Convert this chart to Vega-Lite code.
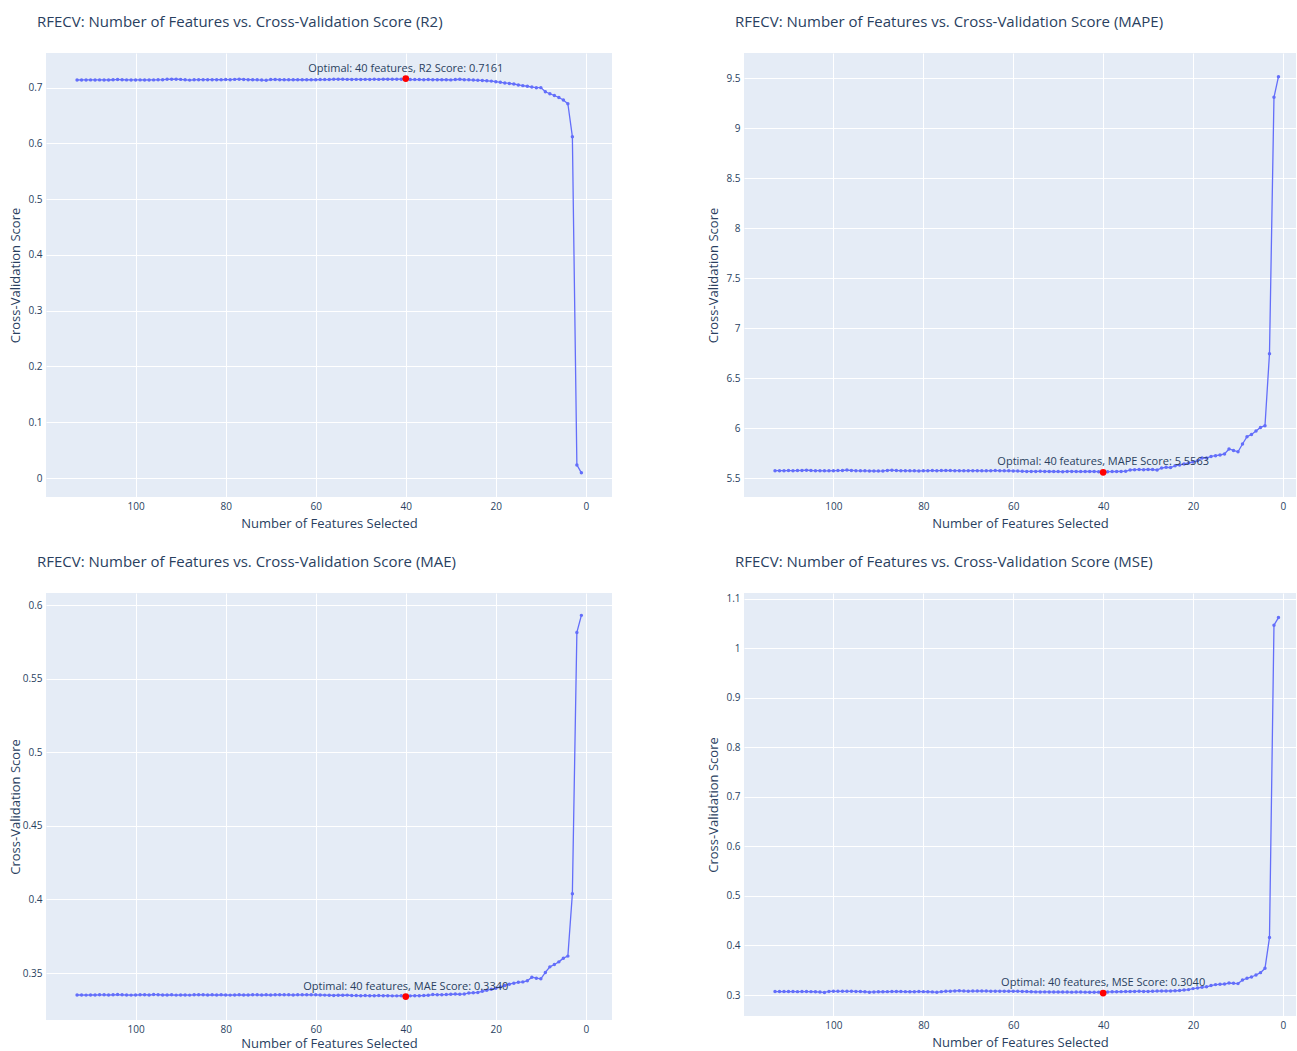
{
  "$schema": "https://vega.github.io/schema/vega-lite/v6.json",
  "background": "white",
  "padding": {"left": 9, "top": 15, "right": 0, "bottom": 0},
  "config": {
    "font": "Open Sans",
    "view": {"fill": "#E5ECF6", "stroke": null},
    "axis": {
      "gridColor": "white", "gridWidth": 1, "domain": false, "ticks": false,
      "labelColor": "#2a3f5f", "labelFontSize": 10, "labelFont": "Open Sans",
      "titleColor": "#2a3f5f", "titleFontSize": 13, "titleFontWeight": "normal", "titleFont": "Open Sans",
      "labelPadding": 4
    },
    "axisX": {"titlePadding": 6},
    "axisY": {"titleX": -31, "titleBaseline": "middle"},
    "title": {"anchor": "start", "frame": "group", "fontSize": 15, "fontWeight": "normal", "color": "#2a3f5f", "font": "Open Sans", "offset": 23, "dx": -9}
  },
  "datasets": {
    "scores": [
      {"n":113,"r2":0.7136,"mape":5.573,"mae":0.3351,"mse":0.3069},
      {"n":112,"r2":0.7137,"mape":5.573,"mae":0.3351,"mse":0.3070},
      {"n":111,"r2":0.7137,"mape":5.573,"mae":0.3350,"mse":0.3069},
      {"n":110,"r2":0.7138,"mape":5.574,"mae":0.3351,"mse":0.3069},
      {"n":109,"r2":0.7137,"mape":5.573,"mae":0.3351,"mse":0.3070},
      {"n":108,"r2":0.7138,"mape":5.574,"mae":0.3352,"mse":0.3068},
      {"n":107,"r2":0.7137,"mape":5.576,"mae":0.3352,"mse":0.3069},
      {"n":106,"r2":0.7136,"mape":5.578,"mae":0.3351,"mse":0.3070},
      {"n":105,"r2":0.7140,"mape":5.575,"mae":0.3352,"mse":0.3068},
      {"n":104,"r2":0.7146,"mape":5.573,"mae":0.3354,"mse":0.3066},
      {"n":103,"r2":0.7140,"mape":5.573,"mae":0.3352,"mse":0.3060},
      {"n":102,"r2":0.7138,"mape":5.572,"mae":0.3351,"mse":0.3052},
      {"n":101,"r2":0.7137,"mape":5.572,"mae":0.3350,"mse":0.3072},
      {"n":100,"r2":0.7137,"mape":5.573,"mae":0.3351,"mse":0.3074},
      {"n":99,"r2":0.7138,"mape":5.574,"mae":0.3352,"mse":0.3075},
      {"n":98,"r2":0.7136,"mape":5.576,"mae":0.3353,"mse":0.3074},
      {"n":97,"r2":0.7137,"mape":5.579,"mae":0.3351,"mse":0.3075},
      {"n":96,"r2":0.7138,"mape":5.576,"mae":0.3354,"mse":0.3074},
      {"n":95,"r2":0.7139,"mape":5.573,"mae":0.3353,"mse":0.3073},
      {"n":94,"r2":0.7141,"mape":5.572,"mae":0.3351,"mse":0.3070},
      {"n":93,"r2":0.7148,"mape":5.572,"mae":0.3351,"mse":0.3066},
      {"n":92,"r2":0.7150,"mape":5.571,"mae":0.3352,"mse":0.3057},
      {"n":91,"r2":0.7149,"mape":5.570,"mae":0.3350,"mse":0.3062},
      {"n":90,"r2":0.7147,"mape":5.569,"mae":0.3351,"mse":0.3064},
      {"n":89,"r2":0.7140,"mape":5.571,"mae":0.3351,"mse":0.3066},
      {"n":88,"r2":0.7134,"mape":5.576,"mae":0.3350,"mse":0.3068},
      {"n":87,"r2":0.7139,"mape":5.578,"mae":0.3352,"mse":0.3070},
      {"n":86,"r2":0.7141,"mape":5.574,"mae":0.3353,"mse":0.3073},
      {"n":85,"r2":0.7142,"mape":5.573,"mae":0.3352,"mse":0.3070},
      {"n":84,"r2":0.7141,"mape":5.573,"mae":0.3351,"mse":0.3068},
      {"n":83,"r2":0.7142,"mape":5.572,"mae":0.3352,"mse":0.3066},
      {"n":82,"r2":0.7141,"mape":5.572,"mae":0.3351,"mse":0.3067},
      {"n":81,"r2":0.7140,"mape":5.571,"mae":0.3352,"mse":0.3069},
      {"n":80,"r2":0.7143,"mape":5.572,"mae":0.3351,"mse":0.3068},
      {"n":79,"r2":0.7141,"mape":5.573,"mae":0.3350,"mse":0.3066},
      {"n":78,"r2":0.7147,"mape":5.574,"mae":0.3351,"mse":0.3063},
      {"n":77,"r2":0.7149,"mape":5.573,"mae":0.3352,"mse":0.3055},
      {"n":76,"r2":0.7146,"mape":5.574,"mae":0.3351,"mse":0.3068},
      {"n":75,"r2":0.7142,"mape":5.575,"mae":0.3351,"mse":0.3074},
      {"n":74,"r2":0.7140,"mape":5.574,"mae":0.3352,"mse":0.3078},
      {"n":73,"r2":0.7139,"mape":5.573,"mae":0.3352,"mse":0.3082},
      {"n":72,"r2":0.7135,"mape":5.573,"mae":0.3351,"mse":0.3086},
      {"n":71,"r2":0.7131,"mape":5.572,"mae":0.3352,"mse":0.3080},
      {"n":70,"r2":0.7143,"mape":5.573,"mae":0.3351,"mse":0.3078},
      {"n":69,"r2":0.7145,"mape":5.573,"mae":0.3352,"mse":0.3079},
      {"n":68,"r2":0.7142,"mape":5.573,"mae":0.3353,"mse":0.3080},
      {"n":67,"r2":0.7140,"mape":5.572,"mae":0.3352,"mse":0.3081},
      {"n":66,"r2":0.7139,"mape":5.572,"mae":0.3352,"mse":0.3079},
      {"n":65,"r2":0.7140,"mape":5.573,"mae":0.3351,"mse":0.3078},
      {"n":64,"r2":0.7140,"mape":5.574,"mae":0.3352,"mse":0.3077},
      {"n":63,"r2":0.7141,"mape":5.573,"mae":0.3352,"mse":0.3078},
      {"n":62,"r2":0.7140,"mape":5.572,"mae":0.3353,"mse":0.3077},
      {"n":61,"r2":0.7141,"mape":5.572,"mae":0.3352,"mse":0.3075},
      {"n":60,"r2":0.7140,"mape":5.571,"mae":0.3352,"mse":0.3076},
      {"n":59,"r2":0.7143,"mape":5.569,"mae":0.3351,"mse":0.3075},
      {"n":58,"r2":0.7144,"mape":5.567,"mae":0.3350,"mse":0.3073},
      {"n":57,"r2":0.7145,"mape":5.566,"mae":0.3349,"mse":0.3070},
      {"n":56,"r2":0.7148,"mape":5.566,"mae":0.3348,"mse":0.3066},
      {"n":55,"r2":0.7149,"mape":5.566,"mae":0.3349,"mse":0.3063},
      {"n":54,"r2":0.7148,"mape":5.567,"mae":0.3349,"mse":0.3062},
      {"n":53,"r2":0.7147,"mape":5.566,"mae":0.3350,"mse":0.3063},
      {"n":52,"r2":0.7146,"mape":5.565,"mae":0.3348,"mse":0.3062},
      {"n":51,"r2":0.7147,"mape":5.565,"mae":0.3347,"mse":0.3060},
      {"n":50,"r2":0.7146,"mape":5.564,"mae":0.3346,"mse":0.3061},
      {"n":49,"r2":0.7147,"mape":5.563,"mae":0.3347,"mse":0.3060},
      {"n":48,"r2":0.7146,"mape":5.566,"mae":0.3346,"mse":0.3059},
      {"n":47,"r2":0.7148,"mape":5.566,"mae":0.3346,"mse":0.3058},
      {"n":46,"r2":0.7147,"mape":5.565,"mae":0.3347,"mse":0.3060},
      {"n":45,"r2":0.7149,"mape":5.564,"mae":0.3346,"mse":0.3059},
      {"n":44,"r2":0.7151,"mape":5.565,"mae":0.3346,"mse":0.3058},
      {"n":43,"r2":0.7148,"mape":5.565,"mae":0.3345,"mse":0.3056},
      {"n":42,"r2":0.7149,"mape":5.565,"mae":0.3345,"mse":0.3055},
      {"n":41,"r2":0.7150,"mape":5.563,"mae":0.3346,"mse":0.3058},
      {"n":40,"r2":0.7161,"mape":5.5563,"mae":0.3340,"mse":0.3040},
      {"n":39,"r2":0.7145,"mape":5.563,"mae":0.3345,"mse":0.3062},
      {"n":38,"r2":0.7143,"mape":5.564,"mae":0.3346,"mse":0.3064},
      {"n":37,"r2":0.7144,"mape":5.565,"mae":0.3346,"mse":0.3066},
      {"n":36,"r2":0.7142,"mape":5.566,"mae":0.3347,"mse":0.3068},
      {"n":35,"r2":0.7143,"mape":5.567,"mae":0.3349,"mse":0.3070},
      {"n":34,"r2":0.7142,"mape":5.580,"mae":0.3354,"mse":0.3071},
      {"n":33,"r2":0.7141,"mape":5.583,"mae":0.3353,"mse":0.3073},
      {"n":32,"r2":0.7140,"mape":5.584,"mae":0.3353,"mse":0.3074},
      {"n":31,"r2":0.7140,"mape":5.583,"mae":0.3354,"mse":0.3073},
      {"n":30,"r2":0.7138,"mape":5.585,"mae":0.3356,"mse":0.3072},
      {"n":29,"r2":0.7143,"mape":5.584,"mae":0.3357,"mse":0.3075},
      {"n":28,"r2":0.7149,"mape":5.580,"mae":0.3356,"mse":0.3079},
      {"n":27,"r2":0.7142,"mape":5.600,"mae":0.3358,"mse":0.3082},
      {"n":26,"r2":0.7139,"mape":5.607,"mae":0.3364,"mse":0.3081},
      {"n":25,"r2":0.7135,"mape":5.605,"mae":0.3366,"mse":0.3083},
      {"n":24,"r2":0.7131,"mape":5.622,"mae":0.3368,"mse":0.3086},
      {"n":23,"r2":0.7128,"mape":5.631,"mae":0.3376,"mse":0.3090},
      {"n":22,"r2":0.7122,"mape":5.640,"mae":0.3383,"mse":0.3101},
      {"n":21,"r2":0.7116,"mape":5.650,"mae":0.3390,"mse":0.3109},
      {"n":20,"r2":0.7105,"mape":5.660,"mae":0.3397,"mse":0.3129},
      {"n":19,"r2":0.7094,"mape":5.673,"mae":0.3405,"mse":0.3141},
      {"n":18,"r2":0.7083,"mape":5.700,"mae":0.3416,"mse":0.3158},
      {"n":17,"r2":0.7075,"mape":5.700,"mae":0.3424,"mse":0.3165},
      {"n":16,"r2":0.7064,"mape":5.716,"mae":0.3431,"mse":0.3190},
      {"n":15,"r2":0.7048,"mape":5.723,"mae":0.3437,"mse":0.3210},
      {"n":14,"r2":0.7035,"mape":5.730,"mae":0.3440,"mse":0.3216},
      {"n":13,"r2":0.7024,"mape":5.740,"mae":0.3447,"mse":0.3222},
      {"n":12,"r2":0.7010,"mape":5.790,"mae":0.3472,"mse":0.3242},
      {"n":11,"r2":0.6998,"mape":5.776,"mae":0.3465,"mse":0.3236},
      {"n":10,"r2":0.6999,"mape":5.762,"mae":0.3461,"mse":0.3230},
      {"n":9,"r2":0.6925,"mape":5.840,"mae":0.3504,"mse":0.3303},
      {"n":8,"r2":0.6889,"mape":5.913,"mae":0.3542,"mse":0.3337},
      {"n":7,"r2":0.6858,"mape":5.936,"mae":0.3558,"mse":0.3364},
      {"n":6,"r2":0.6822,"mape":5.970,"mae":0.3576,"mse":0.3404},
      {"n":5,"r2":0.6778,"mape":6.006,"mae":0.3601,"mse":0.3452},
      {"n":4,"r2":0.6710,"mape":6.023,"mae":0.3615,"mse":0.3539},
      {"n":3,"r2":0.6120,"mape":6.742,"mae":0.4039,"mse":0.4160},
      {"n":2,"r2":0.0235,"mape":9.307,"mae":0.5814,"mse":1.0469},
      {"n":1,"r2":0.0093,"mape":9.513,"mae":0.5930,"mse":1.0624}
    ],
    "optimal": [
      {"metric":"R2","n":40,"score":0.7161,"label":"Optimal: 40 features, R2 Score: 0.7161"},
      {"metric":"MAPE","n":40,"score":5.5563,"label":"Optimal: 40 features, MAPE Score: 5.5563"},
      {"metric":"MAE","n":40,"score":0.3340,"label":"Optimal: 40 features, MAE Score: 0.3340"},
      {"metric":"MSE","n":40,"score":0.3040,"label":"Optimal: 40 features, MSE Score: 0.3040"}
    ]
  },
  "spacing": 25,
  "vconcat": [
    {
      "spacing": 95,
      "hconcat": [
        {
          "width": 566, "height": 444,
          "title": "RFECV: Number of Features vs. Cross-Validation Score (R2)",
          "encoding": {
            "x": {"field": "n", "type": "quantitative", "scale": {"domain": [119.9, -5.8], "nice": false, "zero": false}, "axis": {"title": "Number of Features Selected", "values": [0, 20, 40, 60, 80, 100], "format": "d"}}
          },
          "layer": [
            {"data": {"name": "scores"}, "mark": {"type": "line", "color": "#636efa", "strokeWidth": 1.3, "point": {"filled": true, "size": 12, "color": "#636efa", "opacity": 1}},
             "encoding": {"y": {"field": "r2", "type": "quantitative", "scale": {"domain": [-0.034, 0.762], "nice": false, "zero": false}, "axis": {"title": "Cross-Validation Score", "values": [0, 0.1, 0.2, 0.3, 0.4, 0.5, 0.6, 0.7], "format": "~g"}}}},
            {"data": {"name": "optimal"}, "transform": [{"filter": "datum.metric == 'R2'"}], "mark": {"type": "point", "filled": true, "color": "red", "size": 45, "opacity": 1}, "encoding": {"y": {"field": "score", "type": "quantitative"}}},
            {"data": {"name": "optimal"}, "transform": [{"filter": "datum.metric == 'R2'"}], "mark": {"type": "text", "dy": -10, "fontSize": 11, "color": "#2a3f5f", "font": "Open Sans"}, "encoding": {"y": {"field": "score", "type": "quantitative"}, "text": {"field": "label"}}}
          ]
        },
        {
          "width": 552, "height": 444,
          "title": "RFECV: Number of Features vs. Cross-Validation Score (MAPE)",
          "encoding": {
            "x": {"field": "n", "type": "quantitative", "scale": {"domain": [119.9, -2.9], "nice": false, "zero": false}, "axis": {"title": "Number of Features Selected", "values": [0, 20, 40, 60, 80, 100], "format": "d"}}
          },
          "layer": [
            {"data": {"name": "scores"}, "mark": {"type": "line", "color": "#636efa", "strokeWidth": 1.3, "point": {"filled": true, "size": 12, "color": "#636efa", "opacity": 1}},
             "encoding": {"y": {"field": "mape", "type": "quantitative", "scale": {"domain": [5.31, 9.75], "nice": false, "zero": false}, "axis": {"title": "Cross-Validation Score", "values": [5.5, 6, 6.5, 7, 7.5, 8, 8.5, 9, 9.5], "format": "~g"}}}},
            {"data": {"name": "optimal"}, "transform": [{"filter": "datum.metric == 'MAPE'"}], "mark": {"type": "point", "filled": true, "color": "red", "size": 45, "opacity": 1}, "encoding": {"y": {"field": "score", "type": "quantitative"}}},
            {"data": {"name": "optimal"}, "transform": [{"filter": "datum.metric == 'MAPE'"}], "mark": {"type": "text", "dy": -10, "fontSize": 11, "color": "#2a3f5f", "font": "Open Sans"}, "encoding": {"y": {"field": "score", "type": "quantitative"}, "text": {"field": "label"}}}
          ]
        }
      ]
    },
    {
      "spacing": 95,
      "hconcat": [
        {
          "width": 566, "height": 427,
          "title": "RFECV: Number of Features vs. Cross-Validation Score (MAE)",
          "encoding": {
            "x": {"field": "n", "type": "quantitative", "scale": {"domain": [119.9, -5.8], "nice": false, "zero": false}, "axis": {"title": "Number of Features Selected", "values": [0, 20, 40, 60, 80, 100], "format": "d", "titlePadding": 3}}
          },
          "layer": [
            {"data": {"name": "scores"}, "mark": {"type": "line", "color": "#636efa", "strokeWidth": 1.3, "point": {"filled": true, "size": 12, "color": "#636efa", "opacity": 1}},
             "encoding": {"y": {"field": "mae", "type": "quantitative", "scale": {"domain": [0.3181, 0.6082], "nice": false, "zero": false}, "axis": {"title": "Cross-Validation Score", "values": [0.35, 0.4, 0.45, 0.5, 0.55, 0.6], "format": "~g"}}}},
            {"data": {"name": "optimal"}, "transform": [{"filter": "datum.metric == 'MAE'"}], "mark": {"type": "point", "filled": true, "color": "red", "size": 45, "opacity": 1}, "encoding": {"y": {"field": "score", "type": "quantitative"}}},
            {"data": {"name": "optimal"}, "transform": [{"filter": "datum.metric == 'MAE'"}], "mark": {"type": "text", "dy": -10, "fontSize": 11, "color": "#2a3f5f", "font": "Open Sans"}, "encoding": {"y": {"field": "score", "type": "quantitative"}, "text": {"field": "label"}}}
          ]
        },
        {
          "width": 552, "height": 423,
          "title": "RFECV: Number of Features vs. Cross-Validation Score (MSE)",
          "encoding": {
            "x": {"field": "n", "type": "quantitative", "scale": {"domain": [119.9, -2.9], "nice": false, "zero": false}, "axis": {"title": "Number of Features Selected", "values": [0, 20, 40, 60, 80, 100], "format": "d"}}
          },
          "layer": [
            {"data": {"name": "scores"}, "mark": {"type": "line", "color": "#636efa", "strokeWidth": 1.3, "point": {"filled": true, "size": 12, "color": "#636efa", "opacity": 1}},
             "encoding": {"y": {"field": "mse", "type": "quantitative", "scale": {"domain": [0.2576, 1.112], "nice": false, "zero": false}, "axis": {"title": "Cross-Validation Score", "values": [0.3, 0.4, 0.5, 0.6, 0.7, 0.8, 0.9, 1, 1.1], "format": "~g"}}}},
            {"data": {"name": "optimal"}, "transform": [{"filter": "datum.metric == 'MSE'"}], "mark": {"type": "point", "filled": true, "color": "red", "size": 45, "opacity": 1}, "encoding": {"y": {"field": "score", "type": "quantitative"}}},
            {"data": {"name": "optimal"}, "transform": [{"filter": "datum.metric == 'MSE'"}], "mark": {"type": "text", "dy": -10, "fontSize": 11, "color": "#2a3f5f", "font": "Open Sans"}, "encoding": {"y": {"field": "score", "type": "quantitative"}, "text": {"field": "label"}}}
          ]
        }
      ]
    }
  ]
}
